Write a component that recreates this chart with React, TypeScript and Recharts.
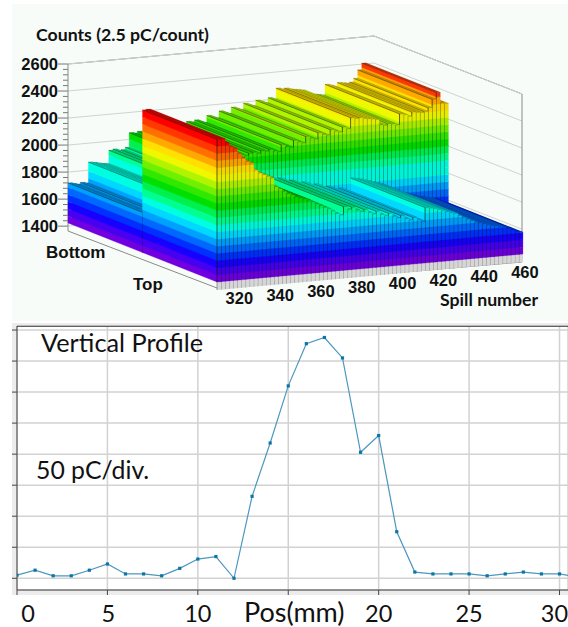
import React from 'react';
import { BarChart, Bar, LineChart, Line, XAxis, YAxis, CartesianGrid, ReferenceLine } from 'recharts';

// top panel: counts per 2-spill bin, one row for each half of the detector
const spills = [
  312, 314, 316, 318, 320, 322, 324, 326, 328, 330, 332, 334, 336, 338, 340,
  342, 344, 346, 348, 350, 352, 354, 356, 358, 360, 362, 364, 366, 368, 370,
  372, 374, 376, 378, 380, 382, 384, 386, 388, 390, 392, 394, 396, 398, 400,
  402, 404, 406, 408, 410, 412, 414, 416, 418, 420, 422, 424, 426, 428, 430,
  432, 434, 436, 438, 440, 442, 444, 446, 448, 450, 452, 454, 456, 458, 460,
];
const bottomCounts = [
  1720, 1712, 1705, 1715, 1708, 1860, 1855, 1848, 1842, 1838, 1934, 1940, 1925, 1930, 1945,
  2050, 2045, 2055, 2040, 2060, 2060, 2070, 2055, 2075, 2080, 2068, 2085, 2090, 2078, 2095,
  2088, 2100, 2085, 2075, 2125, 2110, 2100, 2150, 2135, 2125, 2170, 2155, 2145, 2190, 2175,
  2165, 2205, 2190, 2180, 2215, 2200, 2280, 2270, 2275, 2265, 2260, 2255, 2250, 2208, 2200,
  2210, 2205, 2195, 2275, 2265, 2250, 2280, 2275, 2270, 2275, 2300, 2360, 2407, 2330, 2320,
];
const topCounts = [
  2478, 2480, 2445, 2415, 2400, 2360, 2323, 2295, 2281, 2226, 2200, 2184, 2170, 2156, 2090,
  2070, 2050, 2030, 2015, 2000, 1990, 1980, 1967, 1950, 1935, 1920, 1904, 1890, 1870, 1850,
  1834, 1895, 1870, 1885, 1860, 1845, 1860, 1835, 1820, 1838, 1812, 1798, 1815, 1790, 1775,
  1790, 1765, 1750, 1768, 1745, 1730, 1833, 1825, 1820, 1810, 1800, 1790, 1780, 1770, 1750,
  1735, 1720, 1705, 1689, 1685, 1675, 1665, 1655, 1650, 1642, 1635, 1625, 1610, 1595, 1586,
];
const countTicks = [
  1400, 1440, 1480, 1520, 1560, 1600, 1640, 1680, 1720, 1760, 1800, 1840, 1880, 1920, 1960,
  2000, 2040, 2080, 2120, 2160, 2200, 2240, 2280, 2320, 2360, 2400, 2440, 2480, 2520, 2560, 2600,
];
const spillTicks = [320, 340, 360, 380, 400, 420, 440, 460];
const bandColors = [
  '#7000e0', '#4800f0', '#1800ff', '#0030ff', '#0068ff', '#00a0ff', '#00d8ff', '#00ffe0',
  '#00ff90', '#00f050', '#00e000', '#30e800', '#70f000', '#b0f400', '#f0f800', '#ffe000',
  '#ffa800', '#ff7000', '#ff3800', '#ff0000', '#ff0000',
];

// bottom panel: vertical profile, pC against position
const positions = [
  0, 1, 2, 3, 4, 5, 6, 7, 8, 9, 10, 11, 12, 13, 14, 15,
  16, 17, 18, 19, 20, 21, 22, 23, 24, 25, 26, 27, 28, 29, 30, 31,
];
const profile = [
  5, 13, 4, 4, 13, 23, 7, 7, 4, 16, 31, 35, 0, 132, 218, 310,
  378, 388, 355, 203, 230, 75, 10, 7, 7, 7, 4, 7, 10, 7, 7, 2,
];
const posTicks = [0, 5, 10, 15, 20, 25, 30];
const posLabels = ['0', '5', '10', 'Pos(mm)', '20', '25', '30'];
const posLabelShift = [11, 1, 0, 6, 0, 0, -5];
const divTicks = [0, 50, 100, 150, 200, 250, 300, 350, 400];

const legoData = spills.map((spill, i) => ({ spill, bottom: bottomCounts[i], top: topCounts[i] })).reverse();
const profileData = positions.map((pos, i) => ({ pos, charge: profile[i] }));

// oblique projection of the lego plot
const LEFT = 68;
const BACK_W = 306;
const FLOOR_Y = 231;
const DEPTH_X = 149;
const DEPTH_Y = 59;
const SHEAR = -28 / 306;
const AXIS_MIN = 1364;
const BAND_BASE = 1423;
const BAND_STEP = 52.85;

const project = (px: number, py: number, depth: number): [number, number] => [
  px + depth * DEPTH_X,
  py + depth * DEPTH_Y + SHEAR * (px - LEFT),
];
const quad = (pts: [number, number][]) => 'M' + pts.map(p => p[0].toFixed(2) + ',' + p[1].toFixed(2)).join('L') + 'Z';

const shade = (hex: string, f: number) => {
  const n = parseInt(hex.slice(1), 16);
  const c = [(n >> 16) & 255, (n >> 8) & 255, n & 255].map(v => Math.round(v * f));
  return `rgb(${c[0]},${c[1]},${c[2]})`;
};

const legoShape = (key: 'bottom' | 'top', d0: number, d1: number) => (props: any) => {
  const { x, width, y, height, payload } = props;
  const value = payload[key];
  const perCount = height / (value - AXIS_MIN);
  const yOf = (v: number) => y + height - (v - AXIS_MIN) * perCount;
  const x0 = x;
  const x1 = x + width;
  const parts: React.ReactNode[] = [];

  let lo = BAND_BASE;
  let idx = 0;
  let topColor = bandColors[0];
  while (lo < value) {
    const hi = Math.min(lo + BAND_STEP, value);
    // the far row reads about one level lower in the upper half of the palette
    const band = key === 'bottom' && idx >= 8 && idx < 18 ? idx - 1 : idx;
    const color = bandColors[Math.min(band, bandColors.length - 1)];
    topColor = color;
    const front = shade(color, 0.95);
    parts.push(
      <path key={'s' + idx} fill={color} stroke={color} strokeWidth={0.3}
        d={quad([project(x0, yOf(lo), d0), project(x0, yOf(lo), d1), project(x0, yOf(hi), d1), project(x0, yOf(hi), d0)])} />,
      <path key={'f' + idx} fill={front} stroke={front} strokeWidth={0.3}
        d={quad([project(x0, yOf(lo), d1), project(x1, yOf(lo), d1), project(x1, yOf(hi), d1), project(x0, yOf(hi), d1)])} />,
    );
    lo = hi;
    idx += 1;
  }

  const a = project(x0, y, d0);
  const b = project(x1, y, d0);
  const c = project(x1, y, d1);
  const e = project(x0, y, d1);
  const baseL = project(x0, yOf(BAND_BASE), d1);
  const baseR = project(x1, yOf(BAND_BASE), d1);
  const floorL = project(x0, y + height, d1);
  const floorR = project(x1, y + height, d1);
  const ink = '#0a140a';

  return (
    <g>
      {key === 'top' && <path fill="#d6d6d6" d={quad([baseL, baseR, floorR, floorL])} />}
      {key === 'top' && <line x1={baseL[0]} y1={baseL[1]} x2={floorL[0]} y2={floorL[1]} stroke="#777" strokeWidth={0.7} />}
      {parts}
      <path d={quad([a, b, c, e])} fill={shade(topColor, 0.8)} stroke={ink} strokeOpacity={0.25} strokeWidth={0.5} />
      <line x1={a[0]} y1={a[1]} x2={e[0]} y2={e[1]} stroke={ink} strokeOpacity={0.5} strokeWidth={0.6} />
      <line x1={e[0]} y1={e[1]} x2={baseL[0]} y2={baseL[1]} stroke={ink} strokeOpacity={0.7} strokeWidth={0.9} />
    </g>
  );
};

const CountTick = (props: any) => {
  const { y, payload } = props;
  const major = payload.value % 200 === 0;
  const back = y + SHEAR * BACK_W;
  return (
    <g>
      {payload.value === 2600 && (
        <path
          fill="none" stroke="#8a8a8a" strokeWidth={1}
          d={`M${LEFT},${FLOOR_Y}L${LEFT},${y}L${LEFT + BACK_W},${back}L522,${back + 58}L522,${262}L217,${288}L${LEFT},${FLOOR_Y}`}
        />
      )}
      {major && (
        <polyline
          fill="none" stroke="#cfd3d1" strokeWidth={1}
          points={`${LEFT},${y} ${LEFT + BACK_W},${back} 522,${back + 58}`}
        />
      )}
      <line x1={LEFT - (major ? 10 : 5)} y1={y} x2={LEFT} y2={y} stroke="#777" strokeWidth={1} />
      {major && (
        <text x={58} y={y + 6} textAnchor="end" fontFamily="Liberation Sans" fontWeight="bold" fontSize={16.5} fill="#111">
          {payload.value}
        </text>
      )}
    </g>
  );
};

const SpillTick = (props: any) => {
  const { x, payload } = props;
  const [sx, sy] = project(x, FLOOR_Y, 1);
  return (
    <text x={sx + 4} y={sy + 16} textAnchor="middle" fontFamily="Liberation Sans" fontWeight="bold" fontSize={16.5} fill="#111">
      {payload.value}
    </text>
  );
};

const PosTick = (props: any) => {
  const { x, payload, index } = props;
  return (
    <text x={x + posLabelShift[index]} y={302} textAnchor="middle" fontFamily="Lato" fontSize={payload.value === 15 ? 27 : 23.5} fill="#111">
      {posLabels[index]}
    </text>
  );
};

const squareDot = (props: any) => {
  const { cx, cy, index } = props;
  return <rect key={index} x={cx - 1.6} y={cy - 1.6} width={3.2} height={3.2} fill="#0b76a6" />;
};

const boldLabel = { fontFamily: 'Lato', fontWeight: 'bold', fontSize: 17.7, fill: '#111' } as const;
const sansBold = { fontFamily: 'Liberation Sans', fontWeight: 'bold', fontSize: 17, fill: '#111' } as const;

const App: React.FC = () => {
  return (
    <div style={{ position: 'absolute', left: 0, top: 0, width: 568, height: 627, background: '#fff', overflow: 'hidden' }}>
      <div style={{ position: 'absolute', left: 12, top: 4, width: 556, height: 317, background: '#f7fcf9' }} />
      {/* walls and count axis sit under the bars */}
      <div style={{ position: 'absolute', left: 0, top: 0 }}>
        <BarChart width={568} height={320} data={legoData} margin={{ top: 64, left: 28, right: 194, bottom: 89 }}>
          <YAxis
            type="number"
            domain={[AXIS_MIN, 2600]}
            ticks={countTicks}
            interval={0}
            width={40}
            axisLine={false}
            tickLine={false}
            tick={CountTick}
          />
          <XAxis type="number" dataKey="spill" domain={[311, 461]} hide />
          <Bar dataKey="bottom" fill="none" isAnimationActive={false} shape={() => <g />} />
        </BarChart>
      </div>
      <div style={{ position: 'absolute', left: 0, top: 0 }}>
        <BarChart
          width={568}
          height={320}
          data={legoData}
          barSize={4}
          margin={{ top: 64, left: 68, right: 194, bottom: 59 }}
        >
          <YAxis type="number" domain={[AXIS_MIN, 2600]} hide />
          <XAxis xAxisId="back" type="number" dataKey="spill" domain={[311, 461]} hide />
          <XAxis
            xAxisId="front"
            type="number"
            dataKey="spill"
            domain={[311, 461]}
            ticks={spillTicks}
            interval={0}
            height={30}
            axisLine={false}
            tickLine={false}
            tick={SpillTick}
          />
          <Bar xAxisId="back" dataKey="bottom" isAnimationActive={false} shape={legoShape('bottom', 0, 0.5)} />
          <Bar xAxisId="front" dataKey="top" isAnimationActive={false} shape={legoShape('top', 0.5, 1)} />
          <text x={36} y={41} {...boldLabel}>Counts (2.5 pC/count)</text>
          <text x={46} y={258} {...sansBold}>Bottom</text>
          <text x={133} y={290} {...sansBold}>Top</text>
          <text x={440} y={306} {...boldLabel}>Spill number</text>
        </BarChart>
      </div>
      <div style={{ position: 'absolute', left: 12, top: 323, width: 556, height: 272, background: '#ececec' }} />
      <div style={{ position: 'absolute', left: 17, top: 326, width: 551, height: 264, background: '#fff' }} />
      <div style={{ position: 'absolute', left: 0, top: 320 }}>
        <LineChart
          width={568}
          height={307}
          data={profileData}
          margin={{ top: 6, left: 0, right: 0, bottom: 0 }}
        >
          <CartesianGrid stroke="#d2d2d2" strokeWidth={1.5} />
          <XAxis
            type="number"
            dataKey="pos"
            domain={[0, 30.47]}
            ticks={posTicks}
            interval={0}
            height={37}
            allowDataOverflow
            stroke="#444"
            tickSize={5}
            tick={PosTick}
          />
          <YAxis
            type="number"
            domain={[-18.9, 406.5]}
            ticks={divTicks}
            interval={0}
            width={17}
            allowDataOverflow
            stroke="#444"
            tickSize={5}
            tickFormatter={() => ''}
          />
          <ReferenceLine y={406} stroke="#444" />
          <Line
            dataKey="charge"
            type="linear"
            stroke="#4d97bd"
            strokeWidth={1.2}
            dot={squareDot}
            isAnimationActive={false}
          />
          <text x={41} y={32} fontFamily="Lato" fontSize={25.3} fill="#111">Vertical Profile</text>
          <text x={36} y={159} fontFamily="Lato" fontSize={24.8} fill="#111">50 pC/div.</text>
        </LineChart>
      </div>
    </div>
  );
};

export default App;
